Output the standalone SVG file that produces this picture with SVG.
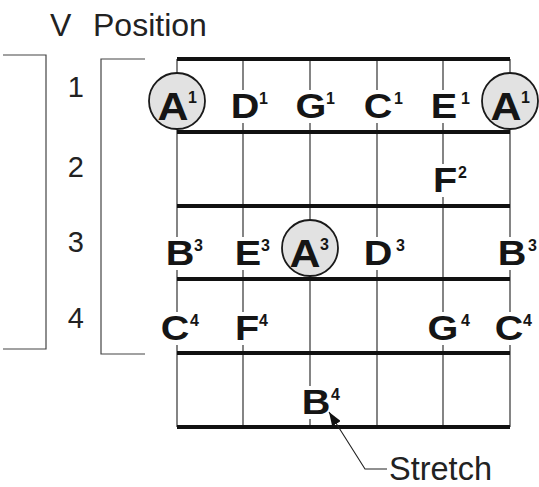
<svg xmlns="http://www.w3.org/2000/svg" width="539" height="487" viewBox="0 0 539 487">
<style>
.bg{fill:#ffffff}
.fret{stroke:#111;stroke-width:4;fill:none}
.str{stroke:#333;stroke-width:1.2;fill:none}
.brk{stroke:#444;stroke-width:1.2;fill:none}
.gap{fill:#ffffff}
.note,.big,.sup{font-family:"Liberation Sans",Arial,sans-serif;font-weight:bold;fill:#151515}
.note,.big{transform-box:fill-box;transform-origin:center;transform:scaleX(1.1)}
.note{font-size:36px;text-anchor:middle}
.big{font-size:39px;text-anchor:middle}
.sup{font-size:16px}
.lbl{font-family:"Liberation Sans",Arial,sans-serif;font-size:29px;fill:#222}
.ttl{font-family:"Liberation Sans",Arial,sans-serif;font-size:32px;fill:#222}
.ring{fill:#e2e2e2;stroke:#1a1a1a;stroke-width:1.8}
.lead{stroke:#222;stroke-width:1.1;fill:none}
</style>
<defs>
<marker id="ah" viewBox="0 0 14 10" refX="14" refY="5" markerWidth="14" markerHeight="10" markerUnits="userSpaceOnUse" orient="auto">
<path d="M0,0 L14,5 L0,10 z" fill="#111"/>
</marker>
</defs>
<rect class="bg" x="0" y="0" width="539" height="487"/>

<g id="title">
<text class="ttl" x="50" y="36">V</text>
<text class="ttl" x="93" y="36">Position</text>
</g>

<g id="brackets">
<polyline class="brk" points="3,55 46,55 46,349 3,349"/>
<polyline class="brk" points="145,59 101,59 101,354 145,354"/>
</g>

<g id="row-numbers">
<text class="lbl" x="84" y="97" text-anchor="end">1</text>
<text class="lbl" x="84" y="177" text-anchor="end">2</text>
<text class="lbl" x="84" y="252" text-anchor="end">3</text>
<text class="lbl" x="84" y="328" text-anchor="end">4</text>
</g>

<g id="fretboard">
<line class="str" x1="177" y1="59" x2="177" y2="427"/>
<line class="str" x1="243" y1="59" x2="243" y2="427"/>
<line class="str" x1="310" y1="59" x2="310" y2="427"/>
<line class="str" x1="377" y1="59" x2="377" y2="427"/>
<line class="str" x1="443" y1="59" x2="443" y2="427"/>
<line class="str" x1="510" y1="59" x2="510" y2="427"/>
<line class="fret" x1="177" y1="59" x2="510" y2="59"/>
<line class="fret" x1="177" y1="132" x2="510" y2="132"/>
<line class="fret" x1="177" y1="206" x2="510" y2="206"/>
<line class="fret" x1="177" y1="279" x2="510" y2="279"/>
<line class="fret" x1="177" y1="353" x2="510" y2="353"/>
<line class="fret" x1="177" y1="427" x2="510" y2="427"/>
</g>

<g id="n-A1-left"><circle class="ring" cx="177" cy="101" r="28"/><text class="big" x="173" y="120">A</text><text class="sup" x="188" y="103">1</text></g>
<g id="n-D1"><rect class="gap" x="240" y="90" width="6" height="33"/><text class="note" x="245" y="118">D</text><text class="sup" x="259" y="104">1</text></g>
<g id="n-G1"><rect class="gap" x="307" y="90" width="6" height="33"/><text class="note" x="311" y="118">G</text><text class="sup" x="326" y="104">1</text></g>
<g id="n-C1"><rect class="gap" x="374" y="90" width="6" height="33"/><text class="note" x="378" y="118">C</text><text class="sup" x="394" y="104">1</text></g>
<g id="n-E1"><rect class="gap" x="440" y="90" width="6" height="33"/><text class="note" x="444" y="118">E</text><text class="sup" x="461" y="104">1</text></g>
<g id="n-A1-right"><circle class="ring" cx="510" cy="101" r="28"/><text class="big" x="506" y="120">A</text><text class="sup" x="521" y="103">1</text></g>

<g id="n-F2"><rect class="gap" x="440" y="164" width="6" height="33"/><text class="note" x="445" y="192">F</text><text class="sup" x="458" y="178">2</text></g>

<g id="n-B3-left"><rect class="gap" x="174" y="237" width="6" height="33"/><text class="note" x="180" y="265">B</text><text class="sup" x="194" y="251">3</text></g>
<g id="n-E3"><rect class="gap" x="240" y="237" width="6" height="33"/><text class="note" x="248" y="265">E</text><text class="sup" x="261" y="251">3</text></g>
<g id="n-A3"><circle class="ring" cx="310" cy="248" r="28"/><text class="big" x="305" y="267">A</text><text class="sup" x="320" y="250">3</text></g>
<g id="n-D3"><rect class="gap" x="374" y="237" width="6" height="33"/><text class="note" x="378" y="265">D</text><text class="sup" x="396" y="251">3</text></g>
<g id="n-B3-right"><rect class="gap" x="507" y="237" width="6" height="33"/><text class="note" x="512" y="265">B</text><text class="sup" x="528" y="251">3</text></g>

<g id="n-C4-left"><rect class="gap" x="174" y="312" width="6" height="33"/><text class="note" x="175" y="340">C</text><text class="sup" x="190" y="326">4</text></g>
<g id="n-F4"><rect class="gap" x="240" y="312" width="6" height="33"/><text class="note" x="247" y="340">F</text><text class="sup" x="259" y="326">4</text></g>
<g id="n-G4"><rect class="gap" x="440" y="312" width="6" height="33"/><text class="note" x="443" y="340">G</text><text class="sup" x="461" y="326">4</text></g>
<g id="n-C4-right"><rect class="gap" x="507" y="312" width="6" height="33"/><text class="note" x="509" y="340">C</text><text class="sup" x="523" y="326">4</text></g>

<g id="n-B4"><rect class="gap" x="307" y="386" width="6" height="33"/><text class="note" x="316" y="414">B</text><text class="sup" x="331" y="400">4</text></g>

<g id="n-stretch"><text class="ttl" x="389" y="480" style="font-size:32.5px">Stretch</text></g>

<g id="connectors">
<path class="lead" d="M387,469 H365 L329,412" marker-end="url(#ah)"/>
</g>
</svg>
